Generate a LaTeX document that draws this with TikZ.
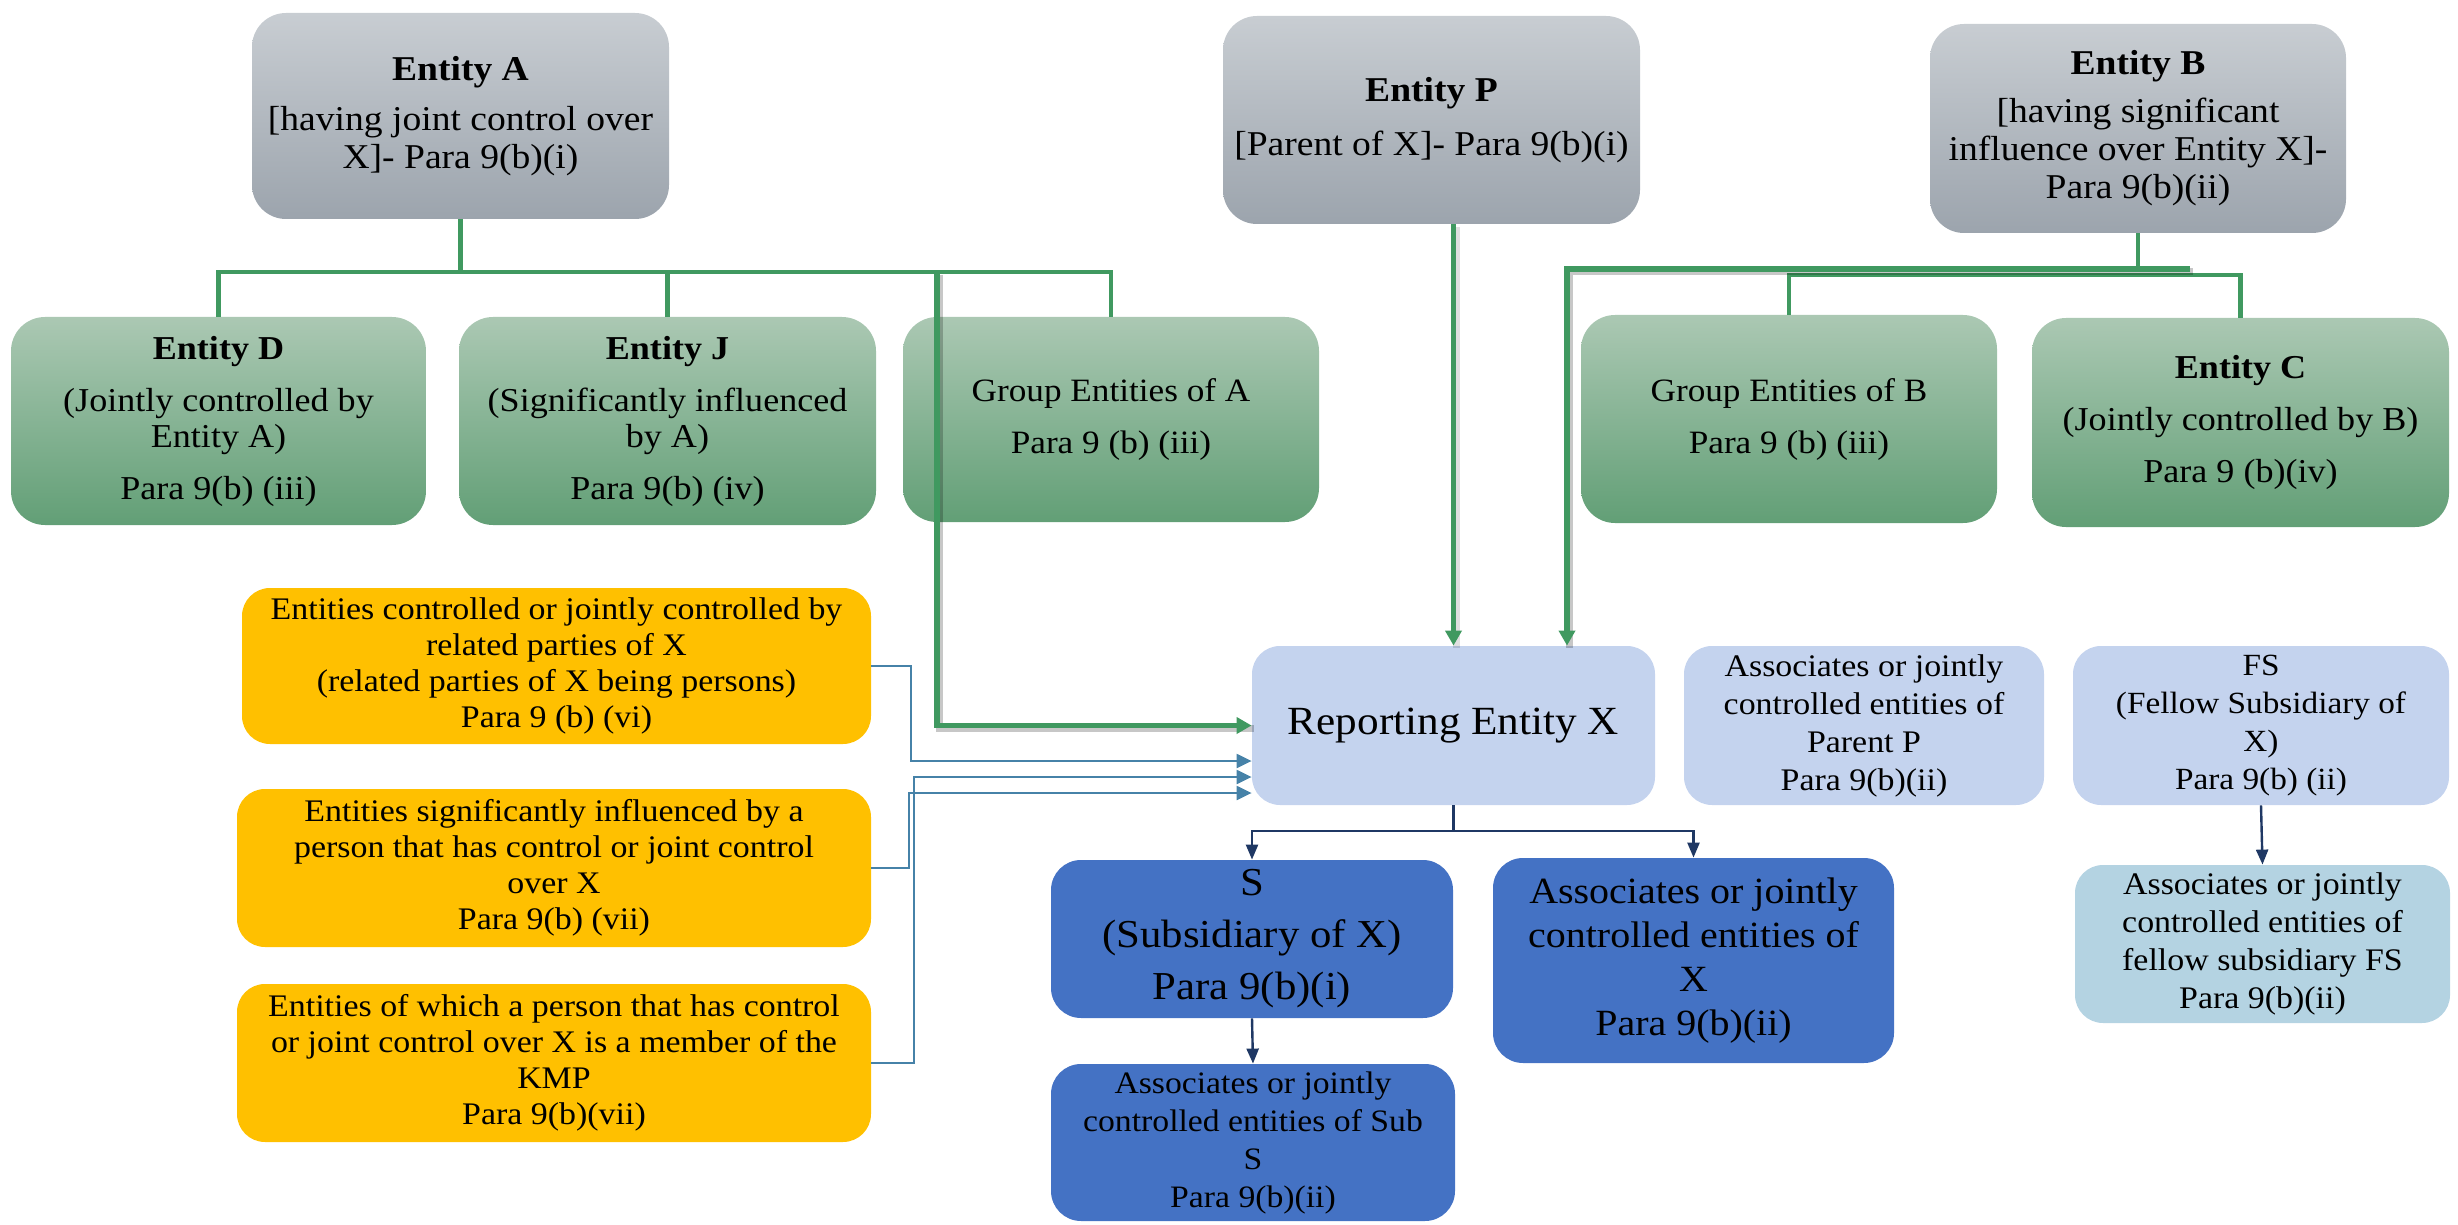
\documentclass[tikz,border=0pt]{standalone}
\usepackage{fontspec}
\setmainfont[FakeStretch=1.08]{Liberation Serif}
\usetikzlibrary{arrows.meta}

\definecolor{grayTop}{RGB}{200,205,210}
\definecolor{grayBot}{RGB}{156,164,173}
\definecolor{greenTop}{RGB}{171,200,179}
\definecolor{greenBot}{RGB}{98,159,118}
\definecolor{amber}{RGB}{255,192,0}
\definecolor{paleblue}{RGB}{196,211,238}
\definecolor{royal}{RGB}{68,114,196}
\definecolor{iceblue}{RGB}{180,211,226}
\definecolor{linkgreen}{RGB}{64,153,96}
\definecolor{steel}{RGB}{70,130,168}
\definecolor{navy}{RGB}{31,56,100}

\newcommand\setfs[2]{\fontsize{#1}{#2}\selectfont}

\tikzset{
  base/.style={align=center, inner sep=0pt, text=black, draw=none},
  graybox/.style={base, rounded corners=17pt, top color=grayTop, bottom color=grayBot,
    font=\setfs{17.4}{19}},
  greenbox/.style={base, rounded corners=17pt, top color=greenTop, bottom color=greenBot,
    font=\setfs{16.7}{18}},
  amberbox/.style={base, rounded corners=14pt, fill=amber, font=\setfs{15.7}{18}},
  palebox/.style={base, rounded corners=14pt, fill=paleblue, font=\setfs{15.7}{19}},
  royalbox/.style={base, rounded corners=15pt, fill=royal},
  icebox/.style={base, rounded corners=14pt, fill=iceblue, font=\setfs{15.7}{19}},
  glink/.style={draw=linkgreen, line width=2.2pt},
  gshadow/.style={draw=black, opacity=0.22, line width=3.6pt,
    transform canvas={xshift=1.3pt, yshift=-1.3pt}},
  gthick/.style={draw=linkgreen, line width=2.6pt},
  garrow/.style={-{Triangle[length=7.5pt,width=8pt]}},
  slink/.style={draw=steel, line width=1.1pt, -{Triangle[length=7.5pt,width=7pt]}},
  nline/.style={draw=navy, line width=1.2pt},
  nlink/.style={nline, -{Triangle[length=7.5pt,width=6pt]}},
}

\begin{document}
\begin{tikzpicture}[x=0.5pt, y=-0.5pt]
\useasboundingbox (0,0) rectangle (2458,1225);

% top row: controlling entities
\node[graybox, minimum width=208.5pt, minimum height=103pt] (A) at (460.5,116)
  {\textbf{Entity A}\\[6pt][having joint control over\\X]- Para 9(b)(i)};
\node[graybox, minimum width=208.5pt, minimum height=104pt] (P) at (1431.5,120)
  {\textbf{Entity P}\\[8pt][Parent of X]- Para 9(b)(i)};
\node[graybox, minimum width=208pt, minimum height=104.5pt] (B) at (2138,128.5)
  {\textbf{Entity B}\\[5pt][having significant\\influence over Entity X]-\\Para 9(b)(ii)};

% second row: entities related through A and B
\node[greenbox, minimum width=207.5pt, minimum height=104pt] (D) at (218.5,421)
  {\textbf{Entity D}\\[8pt](Jointly controlled by\\Entity A)\\[8pt]Para 9(b) (iii)};
\node[greenbox, minimum width=208.5pt, minimum height=104pt] (J) at (667.5,421)
  {\textbf{Entity J}\\[8pt](Significantly influenced\\by A)\\[8pt]Para 9(b) (iv)};
\node[greenbox, minimum width=208pt, minimum height=102.5pt, font=\setfs{16.3}{18}] (GA) at (1111,419.5)
  {Group Entities of A\\[8pt]Para 9 (b) (iii)};
\node[greenbox, minimum width=208pt, minimum height=104pt, font=\setfs{16.3}{18}] (GB) at (1789,419)
  {Group Entities of B\\[8pt]Para 9 (b) (iii)};
\node[greenbox, minimum width=208.5pt, minimum height=104.5pt] (C) at (2240.5,422.5)
  {\textbf{Entity C}\\[8pt](Jointly controlled by B)\\[8pt]Para 9 (b)(iv)};

% entities related through persons
\node[amberbox, minimum width=314.5pt, minimum height=78pt] (O1) at (556.5,666)
  {Entities controlled or jointly controlled by\\related parties of X\\(related parties of X being persons)\\Para 9 (b) (vi)};
\node[amberbox, minimum width=317pt, minimum height=79pt] (O2) at (554,868)
  {Entities significantly influenced by a\\person that has control or joint control\\over X\\Para 9(b) (vii)};
\node[amberbox, minimum width=317pt, minimum height=79pt] (O3) at (554,1063)
  {Entities of which a person that has control\\or joint control over X is a member of the\\KMP\\Para 9(b)(vii)};

% reporting entity and its group
\node[palebox, minimum width=201.5pt, minimum height=79.5pt, font=\setfs{20}{24}] (X) at (1453.5,725.5)
  {Reporting Entity X};
\node[palebox, minimum width=180pt, minimum height=79.5pt] (AP) at (1864,725.5)
  {Associates or jointly\\controlled entities of\\Parent P\\Para 9(b)(ii)};
\node[palebox, minimum width=188pt, minimum height=79.5pt, font=\setfs{15.4}{19}] (FS) at (2261,725.5)
  {FS\\(Fellow Subsidiary of\\X)\\Para 9(b) (ii)};
\node[royalbox, minimum width=201pt, minimum height=79pt, font=\setfs{19.8}{26}] (S) at (1252,939)
  {S\\(Subsidiary of X)\\Para 9(b)(i)};
\node[royalbox, minimum width=200.5pt, minimum height=102.5pt, font=\setfs{18.5}{22}] (AX) at (1693.5,960.5)
  {Associates or jointly\\controlled entities of\\X\\Para 9(b)(ii)};
\node[royalbox, minimum width=202pt, minimum height=78.5pt, font=\setfs{15.6}{19}] (SS) at (1253,1142.5)
  {Associates or jointly\\controlled entities of Sub\\S\\Para 9(b)(ii)};
\node[icebox, minimum width=187.5pt, minimum height=79pt] (AFS) at (2262.5,944)
  {Associates or jointly\\controlled entities of\\fellow subsidiary FS\\Para 9(b)(ii)};

% levels and turning points of the connectors
\coordinate (busA) at (0,272);
\coordinate (busB) at (0,269);
\coordinate (busC) at (0,275);
\coordinate (busX) at (0,831);
\coordinate (adrop) at (937,272);
\coordinate (bend) at (2190,269);
\coordinate (bdrop) at (1567,269);
\coordinate (o1) at (911,0);
\coordinate (o2) at (909,0);
\coordinate (o3) at (914,0);
\path (X.west) ++(0,35.5) coordinate (xa);
\path (X.west) ++(0,51.5) coordinate (xb);
\path (X.west) ++(0,67.5) coordinate (xc);

% Entity A and its investees
\draw[glink] (A.south) -- (A.south |- busA);
\draw[glink] (D.north) -- (D.north |- busA) -- (GA.north |- busA) -- (GA.north);
\draw[glink] (J.north) -- (J.north |- busA);
\draw[gshadow] (adrop) |- (X.west);
\draw[gthick, garrow] (adrop) |- (X.west);

% Entity P
\draw[gshadow, opacity=0.12] (P.south -| X.north) -- (X.north);
\draw[glink, garrow] (P.south -| X.north) -- (X.north);

% Entity B and its investees
\draw[glink] (B.south) -- (B.south |- busB);
\draw[glink] (GB.north) -- (GB.north |- busC) -- (C.north |- busC) -- (C.north);
\draw[gshadow] (bend) -- (bdrop) -- (bdrop |- X.north);
\draw[gthick, garrow] (bend) -- (bdrop) -- (bdrop |- X.north);

% persons-related entities into X
\draw[slink] (O1.east) -- (O1.east -| o1) |- (xa);
\draw[slink] (O3.east) -- (O3.east -| o3) |- (xb);
\draw[slink] (O2.east) -- (O2.east -| o2) |- (xc);

% X's own group
\draw[nline] (X.south) -- (X.south |- busX);
\draw[nlink] (X.south |- busX) -| (S.north);
\draw[nlink] (X.south |- busX) -| (AX.north);
\draw[nlink] (S.south) -- (SS.north);
\draw[nlink] (FS.south) -- (AFS.north);
\end{tikzpicture}
\end{document}
